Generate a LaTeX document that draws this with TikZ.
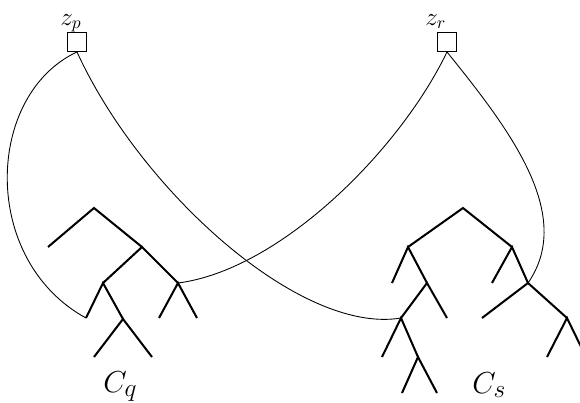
\documentclass[tikz,border=0pt]{standalone}
\usepackage{amsmath}
\usepackage{tikz}

\begin{document}
\begin{tikzpicture}[every node/.style={inner sep=0pt},
    gate/.style={draw, line width=0.5pt, minimum size=0.38cm},
    vname/.style={font=\Large, anchor=base west},
    cname/.style={font=\fontsize{19}{22}\selectfont, anchor=base west},
    branch/.style={line width=1.15pt},
    link/.style={line width=0.5pt}]
              \useasboundingbox (0,0) rectangle (11.6,8.04);

              \node[gate] (zp) at (1.54,7.20) {};
              \node[gate] (zr) at (8.94,7.20) {};
              \node[vname] (lp) at (1.20,7.54) {$z_p$};
              \node[vname] (lr) at (8.50,7.54) {$z_r$};
              \node[cname] (cq) at (2.06,0.20) {$C_q$};
              \node[cname] (cs) at (9.44,0.18) {$C_s$};

              \coordinate (q0) at (1.88,3.88);
              \coordinate (q1) at (0.96,3.10);
              \coordinate (q2) at (2.84,3.10);
              \coordinate (q3) at (2.06,2.38);
              \coordinate (q4) at (3.56,2.38);
              \coordinate (q5) at (1.72,1.68);
              \coordinate (q6) at (2.46,1.66);
              \coordinate (q7) at (1.88,0.90);
              \coordinate (q8) at (3.04,0.90);
              \coordinate (q9) at (3.18,1.68);
              \coordinate (q10) at (3.94,1.68);

              \coordinate (s0) at (9.26,3.88);
              \coordinate (s1) at (8.16,3.10);
              \coordinate (s2) at (10.24,3.10);
              \coordinate (s3) at (7.84,2.38);
              \coordinate (s4) at (8.54,2.38);
              \coordinate (s5) at (8.02,1.68);
              \coordinate (s6) at (8.94,1.68);
              \coordinate (s7) at (7.64,0.90);
              \coordinate (s8) at (8.36,0.90);
              \coordinate (s9) at (8.04,0.18);
              \coordinate (s10) at (8.74,0.18);
              \coordinate (s11) at (9.84,2.38);
              \coordinate (s12) at (10.56,2.38);
              \coordinate (s13) at (9.64,1.68);
              \coordinate (s14) at (11.34,1.68);
              \coordinate (s15) at (10.94,0.90);
              \coordinate (s16) at (11.72,0.90);

              \draw[branch] (q1) -- (q0) -- (q2);
              \draw[branch] (q3) -- (q2) -- (q4);
              \draw[branch] (q5) -- (q3) -- (q6);
              \draw[branch] (q7) -- (q6) -- (q8);
              \draw[branch] (q9) -- (q4) -- (q10);

              \draw[branch] (s1) -- (s0) -- (s2);
              \draw[branch] (s3) -- (s1) -- (s4);
              \draw[branch] (s5) -- (s4) -- (s6);
              \draw[branch] (s7) -- (s5) -- (s8);
              \draw[branch] (s9) -- (s8) -- (s10);
              \draw[branch] (s11) -- (s2) -- (s12);
              \draw[branch] (s13) -- (s12) -- (s14);
              \draw[branch] (s15) -- (s14) -- (s16);

              \draw[link] (zp.south) .. controls (-0.30,6.14) and (-0.40,2.84) .. (q5);
              \draw[link] (zp.south) .. controls (2.80,4.24) and (6.00,1.34) .. (s5);
              \draw[link] (zr.south) .. controls (8.00,5.04) and (5.60,2.64) .. (q4);
              \draw[link] (zr.south) .. controls (10.20,5.44) and (11.50,3.74) .. (s12);
            \end{tikzpicture}
\end{document}
